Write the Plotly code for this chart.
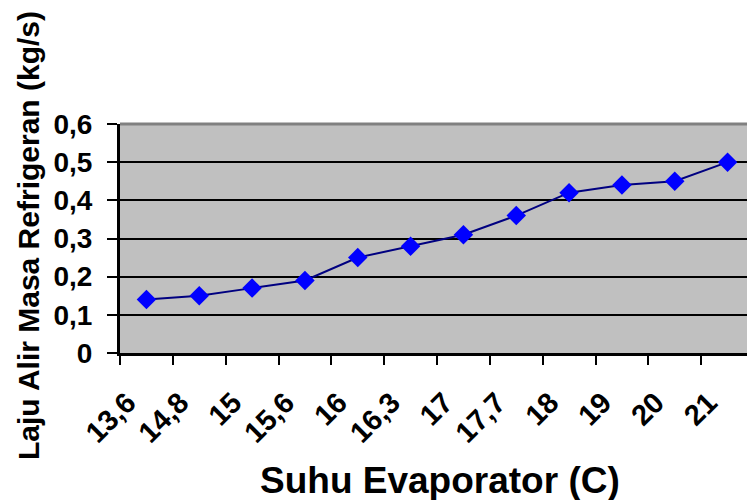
import plotly.graph_objects as go

categories = ["13,6", "14,8", "15", "15,6", "16", "16,3", "17", "17,7", "18", "19", "20", "21"]
values = [0.14, 0.15, 0.17, 0.19, 0.25, 0.28, 0.31, 0.36, 0.42, 0.44, 0.45, 0.50]
y_title = "Laju Alir Masa Refrigeran (kg/s)"
x_title = "Suhu Evaporator (C)"

FONT = "Liberation Sans, Arial, sans-serif"

fig = go.Figure()
fig.add_trace(go.Scatter(
    x=categories, y=values, mode="lines+markers",
    line=dict(color="#000080", width=2),
    marker=dict(symbol="diamond", size=15, color="#0000FF", line=dict(width=0)),
    showlegend=False,
))

fig.update_layout(
    width=747, height=500,
    margin=dict(l=120, r=0, t=124, b=147),
    paper_bgcolor="white",
    plot_bgcolor="#C0C0C0",
    separators=", ",
    font=dict(family=FONT, color="black"),
    xaxis=dict(
        type="category",
        range=[-0.5, 11.5 - 7 / 52.8],
        tickson="boundaries",
        ticks="outside", ticklen=9, tickwidth=2, tickcolor="black",
        showgrid=False, zeroline=False,
        showline=True, linecolor="black", linewidth=3,
        tickangle=-45,
        ticklabelstandoff=18, ticklabelshift=-19,
        tickfont=dict(family=FONT, size=29, weight="bold", color="black"),
    ),
    yaxis=dict(
        range=[0, 0.6], dtick=0.1, tick0=0,
        ticks="outside", ticklen=10, tickwidth=2, tickcolor="black",
        showgrid=True, gridcolor="black", gridwidth=2,
        zeroline=False,
        showline=True, linecolor="black", linewidth=3,
        ticklabelstandoff=9,
        tickfont=dict(family=FONT, size=28, weight="bold", color="black"),
    ),
    shapes=[dict(type="line", xref="paper", yref="paper", x0=0, x1=1, y0=1, y1=1,
                 line=dict(color="#808080", width=3))],
    annotations=[
        dict(text=x_title, xref="paper", yref="paper", x=(439.5 - 120) / 627, y=-(480 - 353) / 229,
             xanchor="center", yanchor="middle", showarrow=False,
             font=dict(family=FONT, size=37, weight="bold", color="black")),
        dict(text=y_title, xref="paper", yref="paper", x=-(120 - 28) / 627, y=(353 - 236) / 229,
             xanchor="center", yanchor="middle", showarrow=False, textangle=-90,
             font=dict(family=FONT, size=30, weight="bold", color="black")),
    ],
)

fig.write_html("out.html")
